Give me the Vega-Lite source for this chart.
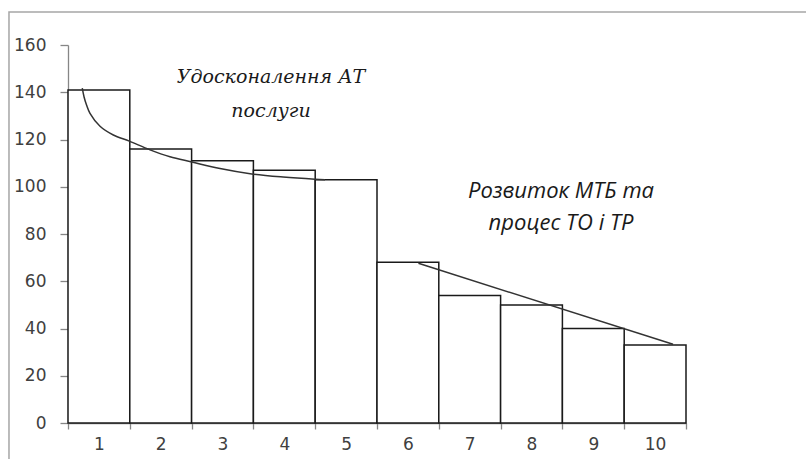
{
  "$schema": "https://vega.github.io/schema/vega-lite/v6.json",
  "width": 618,
  "height": 378,
  "autosize": {"type": "none"},
  "padding": {"left": 68, "top": 45, "right": 120, "bottom": 36},
  "background": "white",
  "config": {"view": {"stroke": null}},
  "datasets": {
    "bars": [
      {"n": 1, "v": 141}, {"n": 2, "v": 116}, {"n": 3, "v": 111}, {"n": 4, "v": 107}, {"n": 5, "v": 103},
      {"n": 6, "v": 68}, {"n": 7, "v": 54}, {"n": 8, "v": 50}, {"n": 9, "v": 40}, {"n": 10, "v": 33}
    ],
    "curve": [
      {"u": 0.731, "v": 141.7}, {"u": 0.76, "v": 138.0}, {"u": 0.8, "v": 134.6}, {"u": 0.856, "v": 131.1}, {"u": 1.018, "v": 125.6},
      {"u": 1.233, "v": 121.9}, {"u": 1.492, "v": 119.3}, {"u": 1.827, "v": 115.6}, {"u": 2.15, "v": 112.7},
      {"u": 2.502, "v": 110.5}, {"u": 2.96, "v": 107.7}, {"u": 3.473, "v": 105.4}, {"u": 3.98, "v": 104.1},
      {"u": 4.497, "v": 103.2}, {"u": 4.659, "v": 103.0}
    ],
    "trend": [{"u": 6.17, "v": 67.6}, {"u": 10.29, "v": 33.3}],
    "labels1": [
      {"u": 3.785, "v": 143.9, "t": "Удосконалення АТ"},
      {"u": 3.785, "v": 129.5, "t": "послуги"}
    ],
    "labels2": [
      {"u": 8.477, "v": 95.2, "t": "Розвиток МТБ та"},
      {"u": 8.477, "v": 81.7, "t": "процес ТО і ТР"}
    ],
    "frame": [{"x1": -0.455, "x2": 12.7, "y1": 174.0, "y2": -20}]
  },
  "resolve": {"scale": {"x": "independent"}},
  "layer": [
    {
      "data": {"name": "frame"},
      "mark": {"type": "rect", "fill": null, "stroke": "#a6a6a6", "strokeWidth": 1.5, "clip": false},
      "encoding": {
        "x": {"field": "x1", "type": "quantitative", "scale": {"domain": [0.5, 10.5], "nice": false, "zero": false}, "axis": null},
        "x2": {"field": "x2"},
        "y": {"field": "y1", "type": "quantitative", "scale": {"domain": [0, 160], "nice": false}},
        "y2": {"field": "y2"}
      }
    },
    {
      "data": {"name": "bars"},
      "mark": {"type": "bar", "fill": "white", "stroke": "#1a1a1a", "strokeWidth": 1.5},
      "encoding": {
        "x": {
          "field": "n", "type": "ordinal",
          "scale": {"paddingInner": 0, "paddingOuter": 0},
          "axis": {
            "title": null, "labelAngle": 0, "tickBand": "extent", "tickSize": 6,
            "labelPadding": 7, "labelFont": "DejaVu Sans", "labelFontSize": 17, "labelColor": "#404040",
            "domainColor": "#868686", "tickColor": "#868686", "domainWidth": 1.3, "tickWidth": 1.3
          }
        },
        "y": {
          "field": "v", "type": "quantitative",
          "scale": {"domain": [0, 160], "nice": false},
          "axis": {
            "title": null, "values": [0, 20, 40, 60, 80, 100, 120, 140, 160], "grid": false,
            "tickSize": 8, "labelPadding": 14, "labelFont": "DejaVu Sans", "labelFontSize": 17, "labelColor": "#404040",
            "domainColor": "#868686", "tickColor": "#868686", "domainWidth": 1.3, "tickWidth": 1.3
          }
        }
      }
    },
    {
      "data": {"name": "curve"},
      "mark": {"type": "line", "interpolate": "catmull-rom", "color": "#333333", "strokeWidth": 1.5},
      "encoding": {
        "x": {"field": "u", "type": "quantitative", "scale": {"domain": [0.5, 10.5], "nice": false, "zero": false}, "axis": null},
        "y": {"field": "v", "type": "quantitative"}
      }
    },
    {
      "data": {"name": "trend"},
      "mark": {"type": "line", "color": "#333333", "strokeWidth": 1.5},
      "encoding": {
        "x": {"field": "u", "type": "quantitative", "scale": {"domain": [0.5, 10.5], "nice": false, "zero": false}, "axis": null},
        "y": {"field": "v", "type": "quantitative"}
      }
    },
    {
      "data": {"name": "labels1"},
      "mark": {"type": "text", "font": "DejaVu Serif", "fontStyle": "italic", "fontSize": 19, "align": "center", "baseline": "alphabetic", "color": "#1a1a1a"},
      "encoding": {
        "x": {"field": "u", "type": "quantitative", "scale": {"domain": [0.5, 10.5], "nice": false, "zero": false}, "axis": null},
        "y": {"field": "v", "type": "quantitative"},
        "text": {"field": "t"}
      }
    },
    {
      "data": {"name": "labels2"},
      "mark": {"type": "text", "font": "Open Sans", "fontStyle": "italic", "fontSize": 22, "align": "center", "baseline": "alphabetic", "color": "#1a1a1a"},
      "encoding": {
        "x": {"field": "u", "type": "quantitative", "scale": {"domain": [0.5, 10.5], "nice": false, "zero": false}, "axis": null},
        "y": {"field": "v", "type": "quantitative"},
        "text": {"field": "t"}
      }
    }
  ]
}
